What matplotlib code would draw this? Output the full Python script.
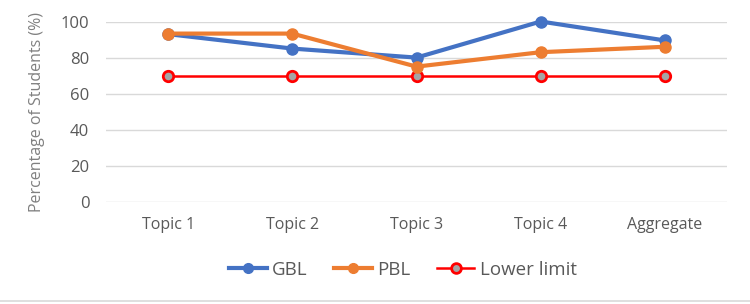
import matplotlib
matplotlib.use("Agg")
import matplotlib.pyplot as plt
from matplotlib.lines import Line2D

categories = ["Topic 1", "Topic 2", "Topic 3", "Topic 4", "Aggregate"]
gbl = [93, 85, 80, 100, 89.5]
pbl = [93.3, 93.3, 75, 83, 86]
lower = [70, 70, 70, 70, 70]
yticks = [0, 20, 40, 60, 80, 100]

plt.rcParams['font.family'] = ['Open Sans', 'DejaVu Sans']
fig = plt.figure(figsize=(7.5, 3.04), dpi=100)
ax = fig.add_axes([106/750, 1-202/304, (727-106)/750, (202-21.5)/304])

x = list(range(len(categories)))
ax.plot(x, gbl, color="#4472C4", lw=3, marker="o", ms=8, clip_on=False, zorder=4, label="GBL")
ax.plot(x, pbl, color="#ED7D31", lw=3, marker="o", ms=8, clip_on=False, zorder=5, label="PBL")
ax.plot(x, lower, color="#FF0000", lw=1.8, marker="o", ms=7.5, mfc="#A5A5A5", mec="#FF0000", mew=2,
        clip_on=False, zorder=3, label="Lower limit")

ax.set_xlim(-0.5, len(categories)-0.5)
ax.set_ylim(0, 100)
ax.set_yticks(yticks)
ax.set_xticks(x)
ax.set_xticklabels(categories)
ax.grid(axis="y", color="#D9D9D9", lw=1)
ax.set_axisbelow(True)
for s in ax.spines.values():
    s.set_visible(False)
ax.tick_params(axis="both", length=0, colors="#595959")
ax.tick_params(axis="x", pad=11, labelsize=11.5)
ax.tick_params(axis="y", pad=12, labelsize=12)
ax.set_ylabel("Percentage of Students (%)", color="#808080", fontsize=11.5, labelpad=11)

handles = [
    Line2D([], [], color="#4472C4", lw=3, marker="o", ms=7),
    Line2D([], [], color="#ED7D31", lw=3, marker="o", ms=7),
    Line2D([], [], color="#FF0000", lw=1.8, marker="o", ms=7, mfc="#A5A5A5", mec="#FF0000", mew=2),
]
fig.legend(handles, ["GBL", "PBL", "Lower limit"], loc="center", bbox_to_anchor=(403/750, 1-270/304),
           ncol=3, frameon=False, fontsize=13.5, labelcolor="#595959", handlelength=2.0,
           columnspacing=1.4, handletextpad=0.3)

fig.add_artist(Line2D([0, 1], [1-301/304, 1-301/304], color="#D9D9D9", lw=1.2, transform=fig.transFigure))

fig.savefig("out.png", dpi=100)
